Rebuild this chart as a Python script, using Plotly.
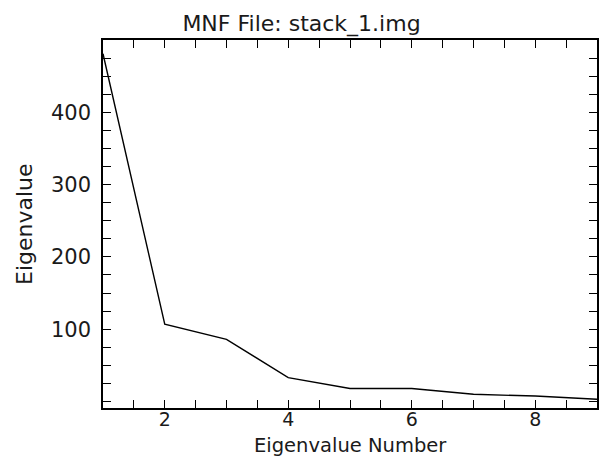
import plotly.graph_objects as go

eig_num = [1, 2, 3, 4, 5, 6, 7, 8, 9]
eig_val = [481, 107, 86, 33, 18, 18, 10, 7.5, 3.2]
x_ticks = [2, 4, 6, 8]
y_ticks = [100, 200, 300, 400]

font = "DejaVu Sans"
txt = "#1a1a1a"
fig = go.Figure()
fig.add_trace(go.Scatter(x=eig_num, y=eig_val, mode="lines",
                         line=dict(color="black", width=1.4), showlegend=False))

axis_common = dict(showline=True, linecolor="black", linewidth=1.5, mirror="ticks",
                   ticks="inside", ticklen=8, tickwidth=1.3, tickcolor="black",
                   showgrid=False, zeroline=False)
fig.update_xaxes(range=[1, 9], tickmode="array", tickvals=x_ticks, ticklabelstandoff=-7,
                 tickfont=dict(family=font, size=19, color=txt),
                 minor=dict(dtick=0.5, tick0=0, ticks="inside", ticklen=8, tickwidth=1.3, tickcolor="black"),
                 **axis_common)
fig.update_yaxes(range=[-9, 500], tickmode="array", tickvals=y_ticks, ticklabelstandoff=6,
                 tickfont=dict(family=font, size=21, color=txt),
                 minor=dict(dtick=25, tick0=0, ticks="inside", ticklen=8, tickwidth=1.3, tickcolor="black"),
                 **axis_common)
fig.add_annotation(text="Eigenvalue Number", xref="paper", yref="paper", x=0.5, y=0,
                   xanchor="center", yanchor="top", yshift=-24, showarrow=False,
                   font=dict(family=font, size=19.5, color=txt))
fig.add_annotation(text="Eigenvalue", xref="paper", yref="paper", x=0, y=0.5,
                   xanchor="center", yanchor="middle", xshift=-79, textangle=-90, showarrow=False,
                   font=dict(family=font, size=22, color=txt))
fig.update_layout(width=603, height=457, margin=dict(l=103, r=4, t=40, b=49),
                  plot_bgcolor="white", paper_bgcolor="white",
                  title=dict(text="MNF File: stack_1.img", x=0.5, xanchor="center", xref="container",
                             y=1 - 16 / 457, yref="container", yanchor="top",
                             font=dict(family=font, size=22, color=txt)))
fig.write_html("out.html", config={"displayModeBar": False},
               post_script="document.body.style.margin='0';")
